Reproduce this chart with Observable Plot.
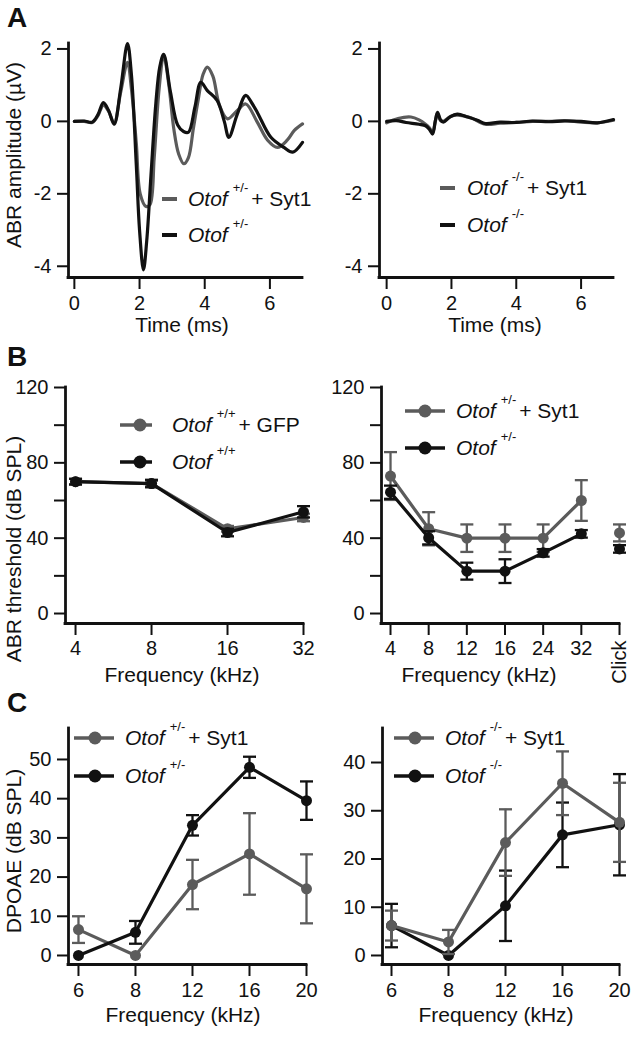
<!DOCTYPE html>
<html><head><meta charset="utf-8">
<script src="https://cdn.jsdelivr.net/npm/d3@7"></script>
<script src="https://cdn.jsdelivr.net/npm/@observablehq/plot@0.6"></script>
<style>
body{margin:0;background:#fff;}
#fig{position:relative;width:633px;height:1050px;overflow:hidden;background:#fff;font-family:"Liberation Sans",Arial,Helvetica,sans-serif;color:#111;}
</style></head>
<body><div id="fig"></div>
<script>
const GRAY = "#5b5b5b", BLACK = "#111111";

// ---------- Panel A: ABR waveforms ----------
const timeTicks = [0, 2, 4, 6];
const ampTicks = [-4, -2, 0, 2];
// Otof +/- + Syt1 (gray)
const tHetSyt1 = [0,0.3,0.55,0.72,0.89,1.05,1.22,1.42,1.63,1.75,1.9,2.02,2.2,2.32,2.45,2.6,2.74,2.9,3.05,3.2,3.36,3.5,3.65,3.8,3.95,4.08,4.25,4.45,4.7,5.0,5.26,5.6,5.93,6.23,6.53,6.75,7.0];
const vHetSyt1 = [0,0,-0.03,0.15,0.45,0.28,-0.05,0.8,1.63,0.9,-0.6,-2.0,-2.35,-2.3,-1.0,0.9,1.82,1.0,-0.2,-0.9,-1.17,-1.0,-0.2,0.6,1.3,1.5,1.25,0.45,0.07,0.3,0.48,0.0,-0.52,-0.72,-0.52,-0.25,-0.07];
// Otof +/- (black)
const tHet = [0,0.3,0.55,0.72,0.89,1.05,1.22,1.42,1.63,1.75,1.9,2.0,2.12,2.22,2.35,2.5,2.62,2.74,2.95,3.17,3.35,3.5,3.7,3.88,4.08,4.38,4.6,4.74,5.0,5.26,5.45,5.63,6.03,6.43,6.7,7.0];
const vHet = [0,0.01,-0.02,0.18,0.52,0.3,-0.08,0.9,2.15,1.3,-1.2,-3.0,-4.1,-3.3,-1.5,0.5,1.5,1.85,0.8,-0.1,-0.28,-0.3,0.4,1.08,0.85,0.58,0.0,-0.44,0.2,0.72,0.5,0.22,-0.44,-0.72,-0.85,-0.58];
// Otof -/- + Syt1 (gray)
const tKoSyt1 = [0,0.35,0.75,1.0,1.2,1.32,1.42,1.5,1.57,1.66,1.75,2.0,2.2,2.6,3.05,3.5,4.0,4.5,5.0,5.5,6.0,6.5,7.0];
const vKoSyt1 = [-0.04,0.08,0.12,0.04,-0.08,-0.18,-0.3,0.0,0.22,0.02,0.0,0.15,0.17,0.1,-0.08,-0.05,-0.03,0.0,0.0,0.02,-0.02,-0.04,0.03];
// Otof -/- (black)
const tKo = [0,0.3,0.6,1.0,1.2,1.32,1.42,1.5,1.57,1.66,1.75,1.95,2.18,2.5,2.8,3.05,3.5,4.0,4.5,5.0,5.5,6.0,6.5,7.0];
const vKo = [0,0.02,-0.03,-0.08,-0.12,-0.22,-0.35,0.0,0.25,0.05,-0.02,0.12,0.2,0.12,0.03,-0.06,-0.02,-0.03,0.01,-0.01,0.01,0.0,-0.04,0.05];

// ---------- Panel B: ABR thresholds ----------
const thrTicks = [0, 40, 80, 120];
const thrMinor = [20, 60, 100];
const freqB1 = [4, 8, 16, 32];
const wtGFP = [70, 69, 45, 51];
const wtGFPerr = [1.5, 1.5, 1.5, 2];
const wt = [70, 69, 43, 54];
const wtErr = [1.5, 2, 2, 3];
const catsB2 = ["4", "8", "12", "16", "24", "32", "Click"];
const hetSyt1B = [73, 45, 40, 40, 40, 60, 42.8];
const hetSyt1Berr = [12.7, 8.8, 7.3, 7.3, 7.3, 10.8, 4.5];
const hetB = [64.4, 40.2, 22.5, 22.5, 32.2, 42.3, 34.3];
const hetBerr = [3.5, 3.5, 4.5, 6.3, 2, 2, 2];

// ---------- Panel C: DPOAE ----------
const catsC = ["6", "8", "12", "16", "20"];
const dpTicksL = [0, 10, 20, 30, 40, 50];
const dpTicksR = [0, 10, 20, 30, 40];
const hetSyt1C = [6.6, 0, 18.1, 25.9, 17.0];
const hetSyt1Cerr = [3.4, 0, 6.3, 10.4, 8.8];
const hetC = [0, 5.9, 33.2, 48.0, 39.5];
const hetCerr = [0, 2.9, 2.6, 2.7, 4.9];
const koSyt1C = [6.2, 2.8, 23.4, 35.7, 27.6];
const koSyt1Cerr = [3.1, 2.5, 6.9, 6.6, 8.2];
const koC = [6.2, 0, 10.3, 25.0, 27.1];
const koCerr = [4.5, 0, 7.3, 6.7, 10.5];

// ---------- helpers ----------
const fig = document.getElementById("fig");
const M = {l: 62, r: 16, t: 12, b: 76};
const zip = (xs, ys, es) => xs.map((x, i) => ({x, v: ys[i], e: es ? es[i] : 0}));
const cap = {draw(ctx, size) { const r = Math.sqrt(size / Math.PI); ctx.moveTo(-r, 0); ctx.lineTo(r, 0); }};
const fmt = d => String(d);

function place(frame, xDom, yDom, xType, marks) {
  const [x0, x1, y0, y1] = frame;
  const p = Plot.plot({
    width: x1 - x0 + M.l + M.r, height: y1 - y0 + M.t + M.b,
    marginLeft: M.l, marginRight: M.r, marginTop: M.t, marginBottom: M.b,
    x: {type: xType, domain: xDom, base: xType === "log" ? 2 : undefined},
    y: {type: "linear", domain: yDom},
    style: {background: "transparent", fontSize: "20px", fontFamily: '"Liberation Sans", Arial, sans-serif', color: BLACK, overflow: "visible"},
    marks: [
      ...marks,
      Plot.ruleX([xDom[0]], {stroke: BLACK, strokeWidth: 2.8, strokeLinecap: "square"}),
      Plot.ruleY([yDom[0]], {stroke: BLACK, strokeWidth: 2.8, strokeLinecap: "square"})
    ]
  });
  p.style.position = "absolute";
  p.style.left = (x0 - M.l) + "px";
  p.style.top = (y0 - M.t) + "px";
  fig.appendChild(p);
}
function errMarks(data, color) {
  const d = data.filter(d => d.e > 0);
  const o = {x: "x", stroke: color, strokeWidth: 2.3};
  return [
    Plot.ruleX(d, {...o, y1: d => d.v - d.e, y2: d => d.v + d.e}),
    Plot.dot(d, {...o, y: d => d.v - d.e, symbol: cap, r: 6.5, fill: "none"}),
    Plot.dot(d, {...o, y: d => d.v + d.e, symbol: cap, r: 6.5, fill: "none"})
  ];
}
function series(data, color, lineData) {
  return [
    ...errMarks(data, color),
    Plot.line(lineData || data, {x: "x", y: "v", stroke: color, strokeWidth: 3.2}),
    Plot.dot(data, {x: "x", y: "v", r: 5.5, fill: color})
  ];
}
const yAx = (ticks, pad = 6) => Plot.axisY({ticks, tickSize: 11, tickPadding: pad, strokeWidth: 2, label: null, tickFormat: fmt, fontSize: 20});
const xAx = (ticks, pad, f = fmt) => Plot.axisX({ticks, tickSize: 12, tickPadding: pad, strokeWidth: 2, label: null, tickFormat: f, fontSize: 20});

// ---------- A left ----------
place([68, 302, 43, 277], [-0.18, 7.0], [-4.31, 2.15], "linear", [
  Plot.line(zip(tHetSyt1, vHetSyt1), {x: "x", y: "v", stroke: GRAY, strokeWidth: 3.2, curve: "catmull-rom"}),
  Plot.line(zip(tHet, vHet), {x: "x", y: "v", stroke: BLACK, strokeWidth: 3.2, curve: "catmull-rom"}),
  yAx(ampTicks), xAx(timeTicks, 6)
]);
// ---------- A right ----------
place([379, 613, 43, 277], [-0.22, 7.0], [-4.31, 2.15], "linear", [
  Plot.line(zip(tKoSyt1, vKoSyt1), {x: "x", y: "v", stroke: GRAY, strokeWidth: 3.2, curve: "catmull-rom"}),
  Plot.line(zip(tKo, vKo), {x: "x", y: "v", stroke: BLACK, strokeWidth: 3.2, curve: "catmull-rom"}),
  yAx(ampTicks), xAx(timeTicks, 6)
]);
// ---------- B left ----------
place([65, 303, 387, 623], [3.65, 32], [-5.3, 120], "log", [
  ...series(zip(freqB1, wtGFP, wtGFPerr), GRAY),
  ...series(zip(freqB1, wt, wtErr), BLACK),
  yAx(thrTicks), Plot.axisY({ticks: thrMinor, tickSize: 11, strokeWidth: 2, label: null, tickFormat: () => ""}),
  xAx(freqB1, 5)
]);
// ---------- B right ----------
const idxB2 = catsB2.map((c, i) => i);
const dB2g = zip(idxB2, hetSyt1B, hetSyt1Berr);
const dB2k = zip(idxB2, hetB, hetBerr);
place([381, 619, 387, 623], [-0.236, 6], [-5.3, 120], "linear", [
  ...series(dB2g, GRAY, dB2g.slice(0, 6)),
  ...series(dB2k, BLACK, dB2k.slice(0, 6)),
  yAx(thrTicks), Plot.axisY({ticks: thrMinor, tickSize: 11, strokeWidth: 2, label: null, tickFormat: () => ""}),
  xAx(idxB2.slice(0, 6), 5, i => catsB2[i]),
  Plot.axisX({ticks: [6], tickSize: 12, tickPadding: 5, strokeWidth: 2, label: null, tickRotate: -90, tickFormat: i => catsB2[i], fontSize: 20})
]);
// ---------- C left ----------
const idxC = catsC.map((c, i) => i);
place([68, 306, 728, 964], [-0.175, 4], [-2.3, 57.9], "linear", [
  ...series(zip(idxC, hetSyt1C, hetSyt1Cerr), GRAY),
  ...series(zip(idxC, hetC, hetCerr), BLACK),
  yAx(dpTicksL), xAx(idxC, 6, i => catsC[i])
]);
// ---------- C right ----------
place([382, 619, 728, 964], [-0.158, 4], [-1.87, 47.05], "linear", [
  ...series(zip(idxC, koC, koCerr), BLACK),
  ...series(zip(idxC, koSyt1C, koSyt1Cerr), GRAY),
  yAx(dpTicksR), xAx(idxC, 6, i => catsC[i])
]);

// ---------- text overlay: panel letters, axis titles, legends ----------
const ov = d3.select(fig).append("svg").attr("width", 633).attr("height", 1050)
  .style("position", "absolute").style("left", "0px").style("top", "0px")
  .style("font-family", '"Liberation Sans", Arial, sans-serif').attr("fill", BLACK);

[["A", 7, 27], ["B", 7, 366], ["C", 7, 712]].forEach(([s, x, y]) =>
  ov.append("text").attr("x", x).attr("y", y).style("font-size", "28px").style("font-weight", "bold").text(s));

[["ABR amplitude (µV)", 155], ["ABR threshold (dB SPL)", 549], ["DPOAE (dB SPL)", 851]].forEach(([s, y]) =>
  ov.append("text").attr("transform", `translate(21,${y}) rotate(-90)`).attr("text-anchor", "middle").style("font-size", "21px").text(s));

[["Time (ms)", 182, 332], ["Time (ms)", 495, 332], ["Frequency (kHz)", 182, 682], ["Frequency (kHz)", 479, 682],
 ["Frequency (kHz)", 183, 1022], ["Frequency (kHz)", 496, 1022]].forEach(([s, x, y]) =>
  ov.append("text").attr("x", x).attr("y", y).attr("text-anchor", "middle").style("font-size", "21px").text(s));

const legends = [
  {type: "dash", x0: 162, x1: 177, tx: 188, ys: [199, 235], rows: [["+/-", "+ Syt1"], ["+/-", ""]]},
  {type: "dash", x0: 440, x1: 455, tx: 467, ys: [188, 225], rows: [["-/-", "+ Syt1"], ["-/-", ""]]},
  {type: "dot", x0: 120, x1: 152, dx: 140, tx: 172, ys: [425, 462], rows: [["+/+", "+ GFP"], ["+/+", ""]]},
  {type: "dot", x0: 405, x1: 445, dx: 425, tx: 456, ys: [411, 448], rows: [["+/-", "+ Syt1"], ["+/-", ""]]},
  {type: "dot", x0: 74, x1: 114, dx: 95, tx: 125, ys: [738, 776], rows: [["+/-", "+ Syt1"], ["+/-", ""]]},
  {type: "dot", x0: 394, x1: 434, dx: 415, tx: 445, ys: [738, 776], rows: [["-/-", "+ Syt1"], ["-/-", ""]]}
];
legends.forEach(L => {
  L.rows.forEach(([sup, tail], i) => {
    const col = i === 0 ? GRAY : BLACK, y = L.ys[i];
    ov.append("line").attr("x1", L.x0).attr("x2", L.x1).attr("y1", y).attr("y2", y)
      .attr("stroke", col).attr("stroke-width", L.type === "dash" ? 4 : 3.5);
    if (L.type === "dot") ov.append("circle").attr("cx", L.dx).attr("cy", y).attr("r", 6.5).attr("fill", col);
    const t = ov.append("text").attr("x", L.tx).attr("y", y + 7).style("font-size", "21px");
    t.append("tspan").style("font-style", "italic").text("Otof");
    t.append("tspan").attr("dx", 5).attr("dy", -14).style("font-size", "13px").text(sup);
    t.append("tspan").attr("dx", 3).attr("dy", 14).text(tail);
  });
});
</script>
</body></html>
